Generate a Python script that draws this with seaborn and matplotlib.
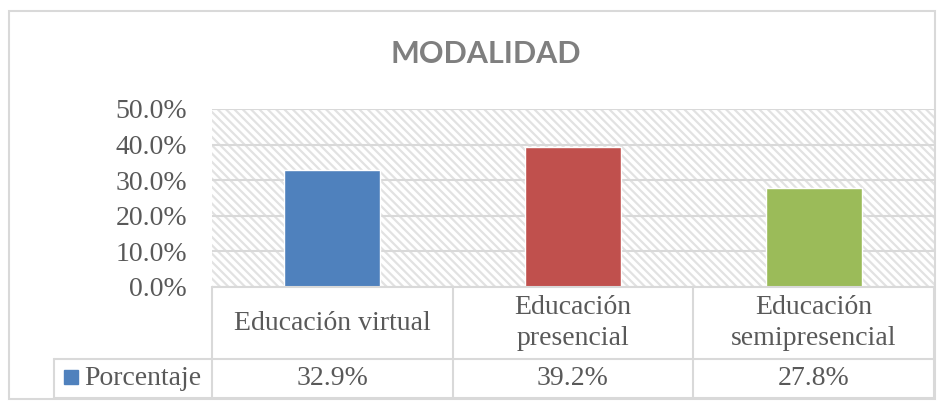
import numpy as np
import pandas as pd
import matplotlib.pyplot as plt
from matplotlib.patches import Rectangle
import seaborn as sns

# datos del grafico
categories = ["Educación virtual", "Educación\npresencial", "Educación\nsemipresencial"]
porcentaje = [32.9, 39.2, 27.8]
bar_colors = ["#4f81bd", "#c0504d", "#9bbb59"]
y_ticks = [0, 10, 20, 30, 40, 50]
series_name = "Porcentaje"
title = "MODALIDAD"

sns.set_style("white")
plt.rcParams['font.family'] = ['Liberation Serif', 'DejaVu Serif']
plt.rcParams['hatch.linewidth'] = 1.6
plt.rcParams['hatch.color'] = '#e2e2e2'

W, H = 950, 404
text_color = '#595959'
line_color = '#d9d9d9'
fs = 20


def box(l, t, r, b):
    # caja en pixeles -> coordenadas de figura
    return [l / W, 1 - b / H, (r - l) / W, (b - t) / H]


fig = plt.figure(figsize=(W / 100, H / 100), dpi=100)

ax = fig.add_axes(box(212, 109, 934, 287))
df = pd.DataFrame({"Modalidad": categories, series_name: porcentaje})
sns.barplot(data=df, x="Modalidad", y=series_name, hue="Modalidad", palette=bar_colors,
            width=0.4, saturation=1, legend=False, ax=ax, zorder=3)

# fondo rayado
ax.add_patch(Rectangle((0, 0), 1, 1, transform=ax.transAxes, facecolor='white',
                       edgecolor='#e2e2e2', hatch='\\\\\\\\', lw=0, zorder=0))
ax.set_xlim(-0.5, 2.5)
ax.set_ylim(0, 50)
ax.set_yticks(y_ticks)
ax.set_yticklabels([f"{v:.1f}%" for v in y_ticks])
ax.set_xticks([])
ax.set_xlabel("")
ax.set_ylabel("")
ax.yaxis.grid(True, color=line_color, lw=1.5, zorder=1)
ax.tick_params(axis='y', length=0, pad=18, labelsize=fs, labelcolor=text_color)
for s in ax.spines.values():
    s.set_visible(False)

# tabla de datos debajo
tab = fig.add_axes(box(54, 287, 934, 398))
unit = 722 / 3
x0 = -0.5 - 158 / unit
tab.set_xlim(x0, 2.5)
tab.set_ylim(0, 1)
tab.axis("off")
mid = (398 - 359) / 111

kw = dict(color=line_color, lw=1.5, clip_on=False)
tab.plot([-0.5, 2.5], [1, 1], **kw)
tab.plot([x0, 2.5], [mid, mid], **kw)
tab.plot([x0, 2.5], [0, 0], **kw)
tab.plot([x0, x0], [0, mid], **kw)
for xv in [-0.5, 0.5, 1.5, 2.5]:
    tab.plot([xv, xv], [0, 1], **kw)

for i, (cat, v) in enumerate(zip(categories, porcentaje)):
    tab.text(i, (1 + mid) / 2, cat, ha='center', va='center', fontsize=fs,
             color=text_color, linespacing=1.35)
    tab.text(i, mid / 2, f"{v:.1f}%", ha='center', va='center', fontsize=fs, color=text_color)

tab.plot([x0 + 16.5 / unit], [mid / 2 + 0.01], marker='s', markersize=10.5,
         color=bar_colors[0], clip_on=False)
tab.text(x0 + 30 / unit, mid / 2, series_name, ha='left', va='center', fontsize=fs,
         color=text_color)

fig.text(486 / W, 1 - 54 / H, title, ha='center', va='center', fontsize=22,
         fontweight='bold', color='#7f7f7f', family=['Lato', 'DejaVu Sans'])

# borde exterior
fig.add_artist(Rectangle((9 / W, 1 - 399 / H), (935 - 9) / W, (399 - 11) / H,
                         transform=fig.transFigure, fill=False, edgecolor=line_color, lw=1.5))

fig.savefig("out.png", dpi=100)
